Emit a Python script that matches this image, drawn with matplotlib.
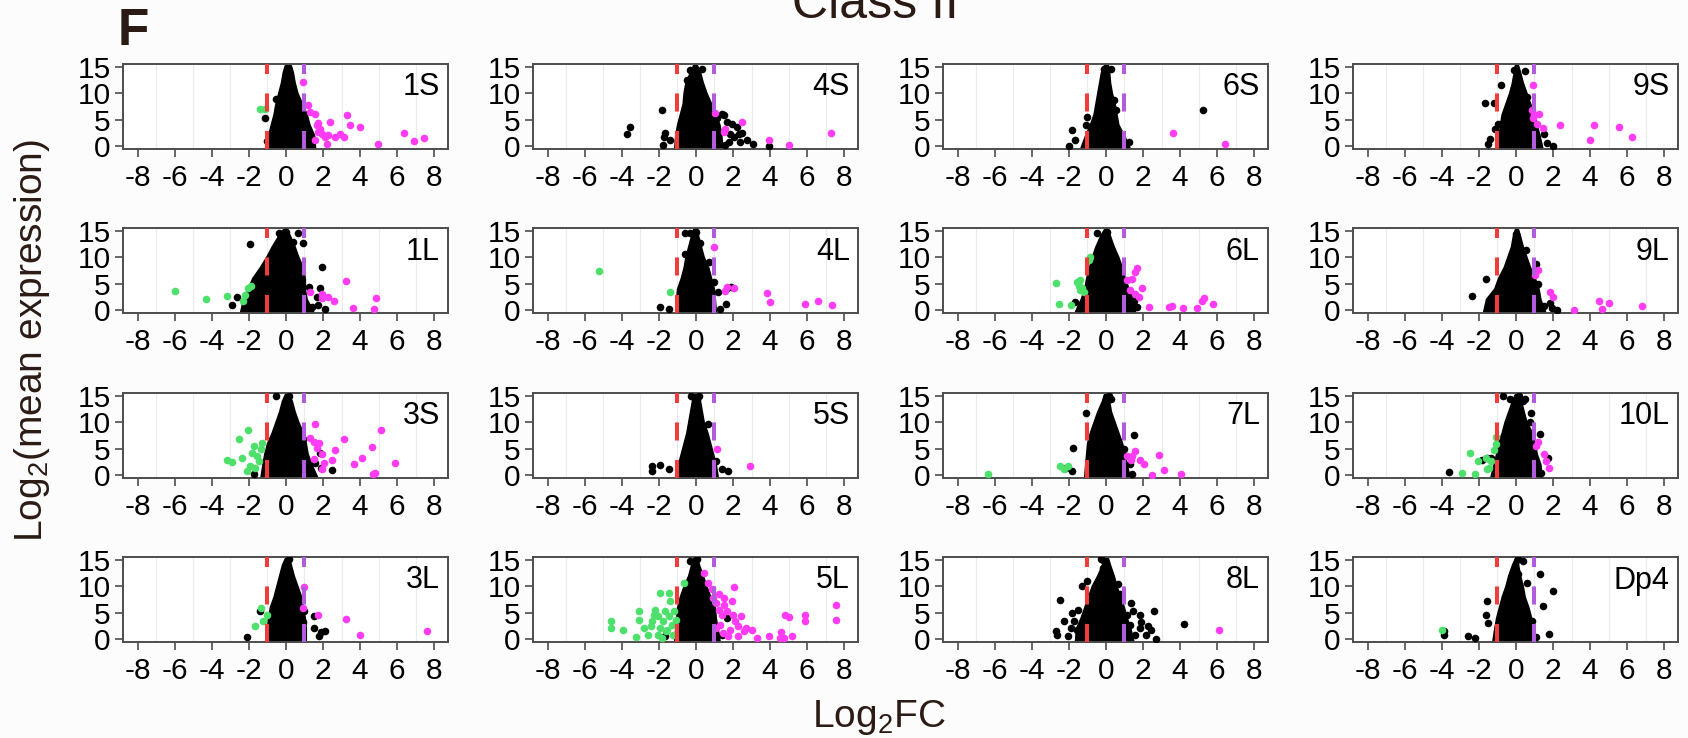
import matplotlib
matplotlib.use('Agg')
import matplotlib.pyplot as plt

panels = ['1S', '4S', '6S', '9S',
          '1L', '4L', '6L', '9L',
          '3S', '5S', '7L', '10L',
          '3L', '5L', '8L', 'Dp4']

x_ticks = [-8, -6, -4, -2, 0, 2, 4, 6, 8]
y_ticks = [0, 5, 10, 15]
grid_x = [-7, -5, -3, -1, 1, 3, 5, 7]
fc_cutoffs = [-1, 1]

# dense cloud of non-significant genes: left / right edge at each expression level
core_levels = [-0.3, 2, 4, 6, 8, 10, 12, 14, 15.2]
core_left = {
    '1S': [-0.9, -0.9, -0.75, -0.6, -0.5, -0.35, -0.2, -0.1, 0.0],
    '4S': [-1.1, -1.05, -0.95, -0.8, -0.65, -0.6, -0.5, -0.25, -0.1],
    '6S': [-1.3, -1.05, -0.8, -0.6, -0.5, -0.4, -0.3, -0.2, -0.05],
    '9S': [-0.9, -0.85, -0.8, -0.7, -0.5, -0.3, -0.15, -0.05, 0.0],
    '1L': [-2.4, -2.25, -2.0, -1.75, -1.35, -1.0, -0.7, -0.35, -0.1],
    '4L': [-1.0, -1.0, -0.95, -0.75, -0.6, -0.5, -0.35, -0.2, -0.1],
    '6L': [-1.6, -1.3, -1.1, -1.0, -0.85, -0.7, -0.5, -0.25, -0.05],
    '9L': [-1.7, -1.55, -1.1, -0.9, -0.6, -0.4, -0.2, -0.1, 0.0],
    '3S': [-1.3, -1.2, -1.1, -0.95, -0.7, -0.5, -0.3, -0.15, 0.0],
    '5S': [-1.0, -0.9, -0.75, -0.6, -0.45, -0.35, -0.25, -0.15, -0.15],
    '7L': [-1.1, -1.05, -1.0, -0.95, -0.8, -0.6, -0.4, -0.15, -0.05],
    '10L': [-1.3, -1.15, -1.0, -0.9, -0.7, -0.55, -0.35, -0.15, 0.0],
    '3L': [-1.0, -0.95, -0.9, -0.8, -0.6, -0.45, -0.3, -0.15, 0.0],
    '5L': [-1.1, -1.05, -1.0, -0.95, -0.8, -0.6, -0.35, -0.2, -0.1],
    '8L': [-1.6, -1.55, -1.3, -1.1, -0.9, -0.7, -0.4, -0.15, 0.0],
    'Dp4': [-1.2, -1.1, -1.0, -0.85, -0.7, -0.5, -0.35, -0.15, 0.0],
}
core_right = {
    '1S': [1.5, 1.45, 1.2, 1.05, 0.8, 0.55, 0.4, 0.3, 0.2],
    '4S': [1.35, 1.3, 1.2, 1.0, 0.75, 0.5, 0.3, 0.15, 0.0],
    '6S': [1.2, 0.9, 0.6, 0.5, 0.4, 0.25, 0.15, 0.1, 0.05],
    '9S': [1.35, 1.2, 1.05, 0.95, 0.7, 0.5, 0.3, 0.15, 0.05],
    '1L': [1.4, 1.05, 0.95, 0.95, 0.85, 0.6, 0.4, 0.15, 0.0],
    '4L': [1.0, 0.95, 0.9, 0.75, 0.6, 0.35, 0.2, 0.05, 0.0],
    '6L': [1.5, 1.4, 1.15, 0.95, 0.8, 0.6, 0.35, 0.15, 0.0],
    '9L': [1.5, 1.25, 1.15, 0.95, 0.7, 0.5, 0.3, 0.15, 0.05],
    '3S': [1.6, 1.3, 1.1, 1.0, 0.85, 0.6, 0.4, 0.25, 0.1],
    '5S': [1.1, 1.0, 0.85, 0.7, 0.55, 0.35, 0.25, 0.15, 0.15],
    '7L': [1.2, 1.05, 0.95, 0.8, 0.6, 0.4, 0.2, 0.1, 0.0],
    '10L': [1.3, 1.25, 1.05, 0.95, 0.8, 0.5, 0.35, 0.2, 0.1],
    '3L': [1.0, 1.0, 0.95, 0.85, 0.75, 0.55, 0.35, 0.2, 0.1],
    '5L': [1.2, 1.1, 1.0, 0.95, 0.7, 0.5, 0.3, 0.1, 0.0],
    '8L': [1.4, 1.25, 1.05, 0.9, 0.7, 0.5, 0.35, 0.15, 0.05],
    'Dp4': [0.9, 0.85, 0.75, 0.6, 0.4, 0.3, 0.15, 0.05, 0.05],
}

# scattered genes (log2FC, log2 mean expression)
black_pts = {
    '1S': [(-0.54, 8.9), (-1.13, 5.4), (-1.04, 0.95), (0.2, 12.7)],
    '4S': [(-3.72, 2.2), (-3.54, 3.7), (-1.83, 6.8), (-1.78, 0.1), (-1.74, 1.7),
           (-1.65, 2.5), (-1.42, 1.1), (-0.3, 14.4), (0.32, 14.7), (-0.49, 12.5),
           (-0.4, 11.8), (0.05, 13.1), (1.4, 6.1), (1.67, 4.6), (1.94, 4.2),
           (2.21, 3.6), (2.3, 2.3), (1.85, 2.3), (2.48, 2.5), (2.03, 1.7),
           (1.76, 0.8), (2.39, 0.8), (2.75, 1.1), (3.1, 0.3), (3.92, 0.0),
           (1.58, 0.1), (1.49, 5.8), (1.13, 5.4)],
    '6S': [(-2.01, 0.0), (-1.83, 3.0), (-1.65, 1.1), (-1.02, 5.5), (-1.06, 3.9),
           (0.56, 6.8), (0.41, 8.8), (0.27, 14.7), (-0.13, 14.7), (5.22, 6.8),
           (1.22, 0.8)],
    '9S': [(-1.69, 8.2), (-1.2, 8.2), (-0.81, 11.5), (0.5, 14.2), (-0.13, 14.4),
           (-0.99, 4.1), (-1.12, 3.3), (-1.51, 0.3), (-1.38, 1.4), (1.49, 2.3),
           (1.67, 0.6), (2.0, 0.0), (0.59, 9.3)],
    '1L': [(-2.92, 1.0), (-2.62, 2.5), (-1.94, 12.6), (-0.36, 14.6), (0.0, 14.9),
           (0.63, 14.7), (0.39, 13.0), (0.9, 12.8), (-0.05, 11.4), (1.97, 8.2),
           (1.26, 4.3), (1.83, 4.1), (1.65, 2.5), (1.38, 0.6), (2.1, 0.25),
           (1.74, 0.9)],
    '4L': [(-1.96, 0.6), (-1.47, 0.25), (-0.58, 14.7), (-0.34, 14.7), (0.02, 14.9),
           (-0.58, 10.7), (0.68, 9.2), (0.95, 5.3), (1.17, 3.4), (1.28, 0.1),
           (1.67, 4.1), (1.91, 4.3), (1.64, 1.1), (0.2, 12.7)],
    '6L': [(-0.48, 14.6), (0.05, 14.9), (0.63, 7.4), (0.95, 4.3), (1.49, 1.8),
           (1.67, 0.6), (-1.65, 1.5), (-1.42, 0.4), (-0.93, 5.0)],
    '9L': [(-2.37, 2.7), (-1.64, 5.8), (0.02, 14.4), (0.02, 13.0), (0.54, 11.4),
           (1.1, 8.8), (1.19, 5.0), (1.85, 1.3), (2.21, 0.06), (1.94, 0.4),
           (1.49, 0.8)],
    '3S': [(-1.7, 0.25), (-0.54, 15.0), (0.15, 15.0), (0.0, 13.4), (0.3, 10.9),
           (0.75, 8.4), (0.9, 6.8), (1.86, 4.2), (2.49, 0.9), (1.59, 2.2),
           (1.89, 1.3)],
    '5S': [(-2.37, 1.7), (-2.37, 0.76), (-1.92, 1.9), (-1.47, 1.1), (1.38, 1.1),
           (1.74, 0.76), (1.08, 2.7), (0.63, 9.6), (0.18, 15.0), (-0.27, 15.0)],
    '7L': [(-1.06, 11.8), (0.14, 15.0), (0.29, 14.4), (1.51, 7.6), (-1.8, 5.1),
           (-1.86, 0.76), (-2.14, 1.4), (1.0, 4.9), (1.29, 2.0), (1.43, 0.25)],
    '10L': [(-3.63, 0.63), (-1.83, 2.85), (-1.54, 3.2), (-1.34, 3.3), (-0.69, 15.0),
            (0.17, 15.0), (0.51, 14.4), (0.8, 11.8), (1.31, 7.7), (1.71, 3.3),
            (1.37, 0.44), (-0.31, 14.5), (0.36, 14.1), (0.74, 10.0), (-1.03, 5.9)],
    '3L': [(-2.1, 0.4), (0.15, 15.1), (0.99, 5.3), (1.5, 4.3), (1.5, 2.0),
           (1.89, 1.3), (2.1, 1.5), (1.8, 0.5), (0.9, 3.2), (-1.41, 5.3)],
    '5L': [(-0.33, 14.8), (0.03, 15.1), (1.68, 3.9), (-1.68, 0.5), (1.38, 0.8),
           (-1.08, 0.5)],
    '8L': [(-2.49, 7.5), (-2.71, 1.6), (-2.66, 0.8), (-2.29, 3.4), (-2.06, 0.5),
           (-1.91, 2.1), (-1.86, 5.0), (-1.71, 3.5), (-1.57, 1.8), (-1.51, 5.6),
           (-1.29, 10.0), (-1.0, 11.0), (-0.29, 15.1), (-0.09, 14.8), (-0.14, 13.4),
           (0.66, 10.4), (0.77, 8.5), (1.34, 6.9), (1.46, 5.3), (1.14, 4.6),
           (1.29, 2.7), (1.57, 0.8), (1.86, 4.6), (1.91, 3.2), (1.86, 2.1),
           (2.29, 2.5), (2.43, 1.8), (2.57, 5.4), (2.71, 0.0), (2.14, 0.8),
           (4.2, 2.9), (1.0, 0.8)],
    'Dp4': [(-3.91, 1.6), (-3.91, 0.7), (-2.57, 0.5), (-2.2, 0.2), (-1.54, 7.2),
            (-1.63, 4.6), (-1.49, 3.1), (0.09, 15.1), (0.37, 14.8), (0.09, 12.4),
            (0.57, 10.7), (0.86, 3.4), (1.29, 12.3), (2.0, 9.1), (1.46, 6.2),
            (1.8, 1.0), (1.09, 0.3)],
}

green_pts = {
    '1S': [(-1.4, 7.0), (-1.13, 7.1)],
    '4S': [],
    '6S': [],
    '9S': [],
    '1L': [(-6.01, 3.6), (-4.32, 2.0), (-3.19, 2.7), (-2.2, 2.8), (-2.03, 4.1),
           (-1.9, 4.5), (-2.33, 1.8)],
    '4L': [(-5.25, 7.4), (-1.38, 3.4)],
    '6L': [(-2.69, 5.1), (-2.55, 1.2), (-1.87, 0.9), (-1.56, 5.3), (-1.38, 5.7),
           (-1.47, 4.5), (-1.42, 3.8), (-1.29, 4.1), (-0.84, 10.1), (-0.93, 9.5),
           (-1.2, 3.4)],
    '9L': [],
    '3S': [(-3.2, 2.8), (-2.9, 2.5), (-2.55, 6.8), (-2.4, 3.3), (-2.04, 8.5),
           (-2.1, 0.8), (-1.86, 4.2), (-1.7, 5.5), (-1.59, 3.6), (-1.47, 2.7),
           (-1.65, 1.4), (-1.35, 4.9), (-1.95, 1.7), (-1.29, 6.1)],
    '5S': [],
    '7L': [(-6.37, 0.25), (-2.49, 1.7), (-2.29, 1.1), (-2.06, 1.7)],
    '10L': [(-2.91, 0.44), (-2.49, 4.1), (-2.2, 0.13), (-2.06, 2.7), (-1.63, 3.2),
            (-1.43, 1.4), (-1.34, 2.7), (-1.2, 4.7), (-1.06, 5.9), (-1.06, 7.2),
            (-1.54, 1.1)],
    '3L': [(-1.35, 5.8), (-1.65, 2.5), (-1.26, 3.5), (-1.05, 4.6)],
    '5L': [(-4.61, 3.4), (-4.61, 2.1), (-3.95, 1.8), (-3.26, 0.4), (-3.05, 5.3),
           (-3.05, 3.7), (-2.57, 0.8), (-2.45, 2.4), (-2.37, 3.5), (-2.22, 5.6),
           (-2.07, 4.3), (-1.92, 8.8), (-1.47, 8.8), (-1.92, 2.1), (-1.77, 3.4),
           (-1.68, 5.3), (-1.62, 1.5), (-1.47, 4.3), (-1.38, 7.2), (-1.32, 2.7),
           (-1.26, 0.8), (-1.17, 5.3), (-1.08, 3.7), (-0.66, 10.7), (-2.07, 0.8),
           (-2.81, 2.1), (-2.28, 4.6), (-1.56, 1.8), (-1.83, 0.2)],
    '8L': [],
    'Dp4': [(-4.0, 1.65)],
}

magenta_pts = {
    '1S': [(0.93, 12.2), (1.2, 7.7), (1.3, 6.5), (1.56, 6.0), (1.65, 3.9),
           (1.74, 4.4), (1.83, 3.3), (1.92, 2.3), (2.1, 1.7), (2.28, 2.0),
           (2.37, 4.5), (2.64, 1.7), (2.19, 0.3), (2.94, 2.2), (3.12, 1.7),
           (3.3, 5.8), (3.48, 3.9), (3.98, 3.6), (4.97, 0.44), (6.35, 2.5),
           (6.94, 0.95), (7.48, 1.6), (1.56, 1.1), (1.74, 2.7)],
    '4S': [(1.04, 6.3), (1.58, 3.3), (2.48, 4.6), (3.97, 1.2), (5.0, 0.25),
           (7.28, 2.5), (1.5, 2.7)],
    '6S': [(3.61, 2.5), (6.43, 0.3)],
    '9S': [(0.9, 11.5), (0.86, 6.8), (0.99, 5.8), (1.24, 6.0), (1.13, 4.2),
           (1.46, 3.4), (2.39, 3.9), (4.01, 1.1), (4.19, 3.9), (5.59, 3.7),
           (6.29, 1.7), (0.92, 5.4)],
    '1L': [(1.29, 3.4), (1.92, 3.0), (1.92, 2.2), (2.28, 2.4), (2.6, 1.8),
           (3.26, 5.5), (3.62, 0.4), (4.74, 0.1), (4.84, 2.2)],
    '4L': [(0.99, 11.9), (1.58, 3.6), (1.67, 4.3), (2.07, 4.2), (3.83, 3.2),
           (4.01, 1.5), (5.9, 1.2), (6.58, 1.8), (7.34, 1.0)],
    '6L': [(1.67, 7.9), (1.58, 7.2), (1.94, 4.2), (1.4, 5.8), (1.81, 2.5),
           (1.58, 3.1), (1.13, 5.7), (2.35, 0.6), (3.38, 0.6), (3.55, 0.7),
           (4.15, 0.4), (4.94, 0.4), (5.17, 1.7), (5.3, 2.2), (5.8, 1.2),
           (1.31, 3.75)],
    '9L': [(1.19, 7.6), (1.04, 6.6), (1.85, 3.4), (1.99, 2.4), (3.11, 0.06),
           (4.46, 1.65), (4.64, 0.13), (5.05, 1.4), (6.8, 0.7)],
    '3S': [(1.29, 7.0), (1.59, 9.6), (1.5, 6.3), (1.8, 6.1), (1.7, 5.2),
           (1.95, 3.9), (2.63, 4.7), (2.49, 2.8), (2.04, 2.3), (1.95, 1.1),
           (3.14, 6.8), (3.68, 2.0), (4.1, 3.2), (4.64, 5.4), (4.7, 0.1),
           (4.82, 0.4), (5.15, 8.6), (5.9, 2.2), (1.5, 3.0)],
    '5S': [(1.14, 4.9), (2.93, 1.7)],
    '7L': [(1.14, 3.6), (1.43, 3.6), (1.57, 4.6), (1.86, 2.85), (2.06, 2.0),
           (2.51, 0.0), (2.86, 3.8), (3.14, 0.9), (4.03, 0.25), (1.34, 2.8)],
    '10L': [(1.17, 6.3), (1.09, 5.5), (1.51, 3.9), (1.6, 2.7), (1.8, 1.3)],
    '3L': [(0.99, 9.9), (1.71, 4.6), (3.26, 3.8), (4.01, 0.8), (7.63, 1.6),
           (0.9, 5.9)],
    '5L': [(0.42, 12.6), (0.63, 10.7), (0.87, 9.4), (0.93, 7.8), (1.08, 6.9),
           (1.23, 5.6), (1.38, 4.6), (1.53, 6.5), (1.68, 5.3), (1.92, 7.2),
           (2.04, 9.9), (1.98, 4.6), (2.13, 3.4), (2.28, 2.4), (2.43, 4.3),
           (2.57, 1.5), (2.72, 2.1), (3.02, 1.8), (3.32, 0.2), (3.92, 0.6),
           (4.58, 1.3), (4.52, 0.1), (4.73, 0.2), (4.82, 4.6), (5.03, 4.1),
           (5.21, 0.6), (5.87, 4.6), (5.87, 3.4), (7.54, 6.4), (7.54, 3.7),
           (1.32, 2.7), (1.44, 1.1), (1.83, 1.8), (1.08, 2.1), (1.74, 0.5),
           (2.28, 0.5), (1.26, 8.5), (1.53, 7.7)],
    '8L': [(6.09, 1.65)],
    'Dp4': [],
}

TEXT = '#2b1b14'
plt.rcParams['font.family'] = ['Liberation Sans', 'DejaVu Sans']
plt.rcParams['mathtext.fontset'] = 'custom'
plt.rcParams['mathtext.rm'] = 'Liberation Sans'
plt.rcParams['lines.scale_dashes'] = False

W, H = 1688, 738
fig = plt.figure(figsize=(W / 100, H / 100), dpi=100, facecolor='#fcfcfd')

col_left = [123, 533, 943, 1353]
row_top = [64, 228, 393, 557]
ax_w, ax_h = 325, 85


def scatter(ax, pts, color):
    if pts:
        xs = [p[0] for p in pts]
        ys = [p[1] for p in pts]
        ax.scatter(xs, ys, s=30, c=color, linewidths=0, zorder=3)


for i, name in enumerate(panels):
    r, c = divmod(i, 4)
    ax = fig.add_axes([col_left[c] / W, 1 - (row_top[r] + ax_h) / H,
                       ax_w / W, ax_h / H])
    ax.set_facecolor('white')
    for x in grid_x:
        ax.axvline(x, color='#ebebeb', lw=0.8, zorder=0)

    ax.fill_betweenx(core_levels, core_left[name], core_right[name],
                     facecolor='black', edgecolor='black', lw=3,
                     joinstyle='round', zorder=2)
    scatter(ax, black_pts[name], 'black')
    scatter(ax, green_pts[name], '#4de06b')
    scatter(ax, magenta_pts[name], '#ff3cf4')

    ax.axvline(fc_cutoffs[0], color='#f23b3b', lw=2.9, dashes=(13, 14), zorder=4)
    ax.axvline(fc_cutoffs[1], color='#b35cdb', lw=2.9, dashes=(13, 14), zorder=4)

    ax.set_xlim(-8.8, 8.75)
    ax.set_ylim(-0.57, 15.57)
    ax.set_xticks(x_ticks)
    ax.set_xticklabels([str(t) for t in x_ticks])
    ax.set_yticks(y_ticks)
    ax.tick_params(axis='both', labelsize=21.5, length=6, width=1.2,
                   color='#4d4d4d', labelcolor='black')
    ax.tick_params(axis='x', pad=4.5)
    ax.tick_params(axis='y', pad=3)
    for sp in ax.spines.values():
        sp.set_color('#4d4d4d')
        sp.set_linewidth(1.4)
    ax.text(0.975, 0.9, name, transform=ax.transAxes, ha='right', va='top',
            fontsize=22, color='black')

fig.text(118 / W, 1 - 45 / H, 'F', fontsize=37, fontweight='bold',
         color=TEXT, ha='left', va='baseline')
fig.text(875 / W, 1 - 18 / H, 'Class II', fontsize=36, color=TEXT,
         ha='center', va='baseline')
fig.text(42 / W, 1 - 341 / H, r'Log$_2$(mean expression)', fontsize=28,
         color=TEXT, rotation=90, rotation_mode='anchor',
         ha='center', va='baseline')
fig.text(879 / W, 1 - 727 / H, r'Log$_2$FC', fontsize=28, color=TEXT,
         ha='center', va='baseline')

fig.savefig('out.png', dpi=100, facecolor=fig.get_facecolor())
